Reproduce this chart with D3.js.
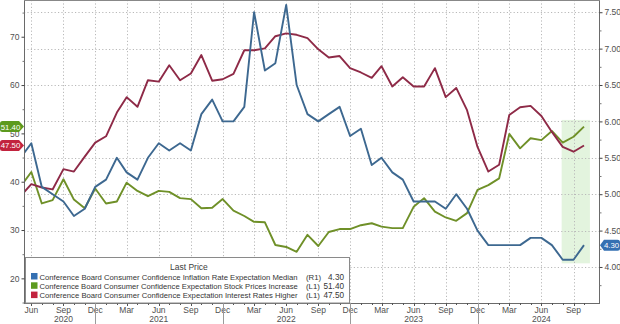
<!DOCTYPE html>
<html><head><meta charset="utf-8">
<script src="https://cdn.jsdelivr.net/npm/d3@7"></script>
<style>
html,body{margin:0;padding:0;background:#fff;}
svg{display:block;font-family:"Liberation Sans",Arial,sans-serif;}
</style></head><body>
<svg id="chart" width="620" height="324"></svg>
<script>
// Monthly observations, May 2020 through Oct 2024
const months = d3.timeMonths(new Date(2020, 4, 1), new Date(2024, 10, 1));

// Inflation rate expectation median (%, right axis)
const inflationMedian = [
  5.5, 5.7, 5.1, 5.0, 4.9, 4.7, 4.8, 5.1,
  5.2, 5.5, 5.3, 5.2, 5.5, 5.7, 5.6, 5.7, 5.6, 6.1, 6.3, 6.0,
  6.0, 6.2, 7.5, 6.7, 6.8, 7.6, 6.5, 6.1, 6.0, 6.1, 6.2, 5.8,
  5.9, 5.4, 5.5, 5.3, 5.2, 4.9, 4.9, 4.9, 4.8, 5.0, 4.8, 4.5,
  4.3, 4.3, 4.3, 4.3, 4.4, 4.4, 4.3, 4.1, 4.1, 4.3
];
// Expectation: stock prices increase (left axis)
const stockPricesIncrease = [
  39.0, 42.0, 35.5, 36.2, 40.5, 36.3, 34.5, 38.6,
  35.5, 35.9, 39.8, 38.1, 37.0, 38.1, 37.9, 36.6, 36.4, 34.5, 34.6, 36.4,
  34.0, 32.9, 31.7, 31.6, 26.9, 26.5, 25.5, 29.0, 26.7, 29.6, 30.2, 30.2,
  31.0, 31.4, 30.7, 30.4, 30.4, 34.8, 36.6, 33.8, 32.6, 31.9, 33.5, 38.3,
  39.3, 40.7, 49.9, 46.9, 49.0, 48.6, 50.5, 48.1, 49.3, 51.4
];
// Expectation: interest rates higher (left axis)
const interestRatesHigher = [
  37.0, 39.5, 38.8, 38.4, 42.6, 42.1, 45.2, 48.1,
  49.4, 54.3, 57.5, 55.5, 61.0, 60.7, 64.1, 61.0, 62.4, 66.2, 60.9, 61.2,
  62.3, 67.2, 67.2, 67.6, 70.1, 70.7, 70.4, 69.7, 67.4, 65.7, 66.0, 63.5,
  62.6, 61.5, 63.9, 59.7, 61.6, 59.7, 59.7, 63.5, 57.5, 59.4, 54.8, 47.2,
  42.1, 43.5, 53.8, 55.4, 55.7, 53.6, 50.3, 47.2, 46.2, 47.5
];

const seriesNames = [
  "Conference Board Consumer Confidence Inflation Rate Expectation Median",
  "Conference Board Consumer Confidence Expectation Stock Prices Increase",
  "Conference Board Consumer Confidence Expectation Interest Rates Higher"
];
const seriesAxes = ["R1", "L1", "L1"];
const leftTicks = [20, 30, 40, 50, 60, 70];
const rightTicks = [4.0, 4.5, 5.0, 5.5, 6.0, 6.5, 7.0, 7.5];
const highlightMonths = [new Date(2024, 6, 29), new Date(2024, 9, 18)];
const highlightRange = [4.05, 6.02];

const svg = d3.select("#chart");
const W = 620, H = 324;
const plot = {left: 24, right: 599, top: 0, bottom: 303};

const x = d3.scaleTime()
  .domain([new Date(2020, 4, 1), new Date(2024, 9, 1)])
  .range([20.5, 584]);
const yL = d3.scaleLinear().domain([14.9, 77.6]).range([plot.bottom, plot.top]);
const yR = d3.scaleLinear().domain([3.505, 7.668]).range([plot.bottom, plot.top]);

const colors = {
  blueLine: "#3d6890", greenLine: "#6f9028", redLine: "#8e2a47",
  blueKey: "#3570b2", greenKey: "#5c9a1e", redKey: "#c2233e"
};

svg.append("defs").append("clipPath").attr("id", "plotclip")
  .append("rect").attr("x", plot.left).attr("y", plot.top)
  .attr("width", plot.right - plot.left).attr("height", plot.bottom - plot.top);

// highlighted window
svg.append("rect")
  .attr("x", x(highlightMonths[0])).attr("width", x(highlightMonths[1]) - x(highlightMonths[0]))
  .attr("y", yR(highlightRange[1])).attr("height", yR(highlightRange[0]) - yR(highlightRange[1]))
  .attr("fill", "#a8dc98").attr("opacity", 0.32);

// grid
const grid = svg.append("g").attr("stroke", "#b9b9b9").attr("stroke-width", 1)
  .attr("stroke-dasharray", "1.2,2.2").attr("fill", "none");
rightTicks.forEach(v => {
  grid.append("line").attr("x1", plot.left).attr("x2", plot.right)
    .attr("y1", Math.round(yR(v)) + 0.5).attr("y2", Math.round(yR(v)) + 0.5);
});
const quarterMonths = months.filter(d => d.getMonth() % 3 === 2);
quarterMonths.forEach(d => {
  const xx = Math.round(x(d)) + 0.5;
  grid.append("line").attr("x1", xx).attr("x2", xx).attr("y1", plot.top).attr("y2", plot.bottom);
});

// series lines
const lines = svg.append("g").attr("clip-path", "url(#plotclip)").attr("fill", "none")
  .attr("stroke-width", 1.9).attr("stroke-linejoin", "round");
const lineL = d3.line().x((d, i) => x(months[i])).y(d => yL(d));
const lineR = d3.line().x((d, i) => x(months[i])).y(d => yR(d));
lines.append("path").datum(stockPricesIncrease).attr("d", lineL).attr("stroke", colors.greenLine);
lines.append("path").datum(interestRatesHigher).attr("d", lineL).attr("stroke", colors.redLine);
lines.append("path").datum(inflationMedian).attr("d", lineR).attr("stroke", colors.blueLine);

// frame
const frame = svg.append("g").attr("stroke", "#6a6a6a").attr("stroke-width", 1).attr("fill", "none");
frame.append("line").attr("x1", plot.left + 0.5).attr("x2", plot.left + 0.5).attr("y1", 0).attr("y2", plot.bottom);
frame.append("line").attr("x1", plot.right + 0.5).attr("x2", plot.right + 0.5).attr("y1", 0).attr("y2", plot.bottom);
frame.append("line").attr("x1", plot.left).attr("x2", plot.right + 1).attr("y1", plot.bottom + 0.5).attr("y2", plot.bottom + 0.5);
frame.append("line").attr("x1", plot.left).attr("x2", plot.right + 1).attr("y1", 0.5).attr("y2", 0.5).attr("stroke", "#888");

// left axis
const leftAxis = d3.axisLeft(yL).tickValues(leftTicks).tickSize(3).tickPadding(2).tickFormat(d3.format("d"));
const gl = svg.append("g").attr("transform", `translate(${plot.left + 0.5},0)`).call(leftAxis);
gl.select(".domain").remove();
gl.selectAll("line").attr("stroke", "#444");
gl.selectAll("text").attr("font-size", 8.5).attr("fill", "#505050").attr("font-family", "Liberation Sans, Arial, sans-serif");
const leftMinor = d3.axisLeft(yL).tickValues(d3.range(15, 78, 5).filter(v => v % 10 !== 0)).tickSize(2).tickFormat("");
const glm = svg.append("g").attr("transform", `translate(${plot.left + 0.5},0)`).call(leftMinor);
glm.select(".domain").remove(); glm.selectAll("line").attr("stroke", "#777");

// right axis
const rightAxis = d3.axisRight(yR).tickValues(rightTicks).tickSize(3).tickPadding(2).tickFormat(d3.format(".2f"));
const gr = svg.append("g").attr("transform", `translate(${plot.right + 0.5},0)`).call(rightAxis);
gr.select(".domain").remove();
gr.selectAll("line").attr("stroke", "#444");
gr.selectAll("text").attr("font-size", 8.5).attr("fill", "#505050").attr("font-family", "Liberation Sans, Arial, sans-serif");
const rightMinor = d3.axisRight(yR).tickValues(d3.range(3.75, 7.7, 0.5)).tickSize(2).tickFormat("");
const grm = svg.append("g").attr("transform", `translate(${plot.right + 0.5},0)`).call(rightMinor);
grm.select(".domain").remove(); grm.selectAll("line").attr("stroke", "#777");

// bottom axis: month ticks, quarter labels, year labels
const gb = svg.append("g");
months.forEach(d => {
  const xx = Math.round(x(d)) + 0.5;
  if (xx < plot.left || xx > plot.right) return;
  const q = d.getMonth() % 3 === 2;
  gb.append("line").attr("x1", xx).attr("x2", xx).attr("y1", plot.bottom).attr("y2", plot.bottom + (q ? 3 : 2))
    .attr("stroke", "#555");
});
const fmtMonth = d3.timeFormat("%b");
quarterMonths.forEach(d => {
  gb.append("text").attr("x", x(d)).attr("y", 312.5).attr("text-anchor", "middle")
    .attr("font-size", 8.5).attr("fill", "#505050").text(fmtMonth(d));
});
months.filter(d => d.getMonth() === 11).forEach(d => {
  const xx = Math.round(x(d)) + 0.5;
  gb.append("line").attr("x1", xx).attr("x2", xx).attr("y1", plot.bottom).attr("y2", H)
    .attr("stroke", "#9a9a9a");
});
const years = d3.range(2020, 2025);
years.forEach(yr => {
  let xx = x(new Date(yr, 5, 1));
  if (xx < plot.left + 20) xx = x(new Date(yr, 8, 1));
  gb.append("text").attr("x", xx).attr("y", 321.5).attr("text-anchor", "middle")
    .attr("font-size", 8.5).attr("fill", "#505050").text(yr);
});

// legend
const lg = svg.append("g");
lg.append("rect").attr("x", plot.left + 1.5).attr("y", 257.5).attr("width", 324).attr("height", plot.bottom - 257.5)
  .attr("fill", "#fff").attr("stroke", "#8a8a8a");
lg.append("text").attr("x", 170).attr("y", 269.5).attr("font-size", 8.5).attr("fill", "#404040").text("Last Price");
const keyColors = [colors.blueKey, colors.greenKey, colors.redKey];
const lastValues = [inflationMedian, stockPricesIncrease, interestRatesHigher].map(a => a[a.length - 1]);
const nameWidth = 258;
seriesNames.forEach((name, i) => {
  const yy = 276.5 + i * 9.3;
  lg.append("rect").attr("x", 31).attr("y", yy - 3.5).attr("width", 6.5).attr("height", 6.5).attr("fill", keyColors[i]);
  const t = lg.append("text").attr("x", 39.5).attr("y", yy + 3).attr("font-size", 8.2).attr("fill", "#353535").text(name);
  // scale the font so the series name fills the legend's name column
  const w = t.node().getComputedTextLength();
  t.attr("font-size", (8.2 * nameWidth / w).toFixed(2));
  lg.append("text").attr("x", 306).attr("y", yy + 3).attr("font-size", 7.8).attr("fill", "#353535")
    .text(`(${seriesAxes[i]})`);
  lg.append("text").attr("x", 344).attr("y", yy + 3).attr("font-size", 8.2).attr("fill", "#353535")
    .attr("text-anchor", "end").text(d3.format(".2f")(lastValues[i]));
});

// last-value tags on the axes
function tag(cy, side, color, label) {
  const h = 11, r = 2.5;
  let p;
  if (side === "left") {
    const x0 = 0, x1 = 19, tip = 24;
    p = `M${x0},${cy - h / 2 + r} Q${x0},${cy - h / 2} ${x0 + r},${cy - h / 2} L${x1},${cy - h / 2} L${tip},${cy} L${x1},${cy + h / 2} L${x0 + r},${cy + h / 2} Q${x0},${cy + h / 2} ${x0},${cy + h / 2 - r} Z`;
  } else {
    const tip = plot.right + 1, x0 = 604, x1 = 620;
    p = `M${tip},${cy} L${x0},${cy - h / 2} L${x1 - r},${cy - h / 2} Q${x1},${cy - h / 2} ${x1},${cy - h / 2 + r} L${x1},${cy + h / 2 - r} Q${x1},${cy + h / 2} ${x1 - r},${cy + h / 2} L${x0},${cy + h / 2} Z`;
  }
  svg.append("path").attr("d", p).attr("fill", color);
  svg.append("text").attr("x", side === "left" ? 10.5 : 611.5).attr("y", cy + 3)
    .attr("text-anchor", "middle").attr("font-size", 7.8).attr("fill", "#fff").text(label);
}
tag(yL(lastValues[1]), "left", colors.greenKey, d3.format(".2f")(lastValues[1]));
tag(yL(lastValues[2]), "left", colors.redKey, d3.format(".2f")(lastValues[2]));
tag(yR(lastValues[0]), "right", colors.blueKey, d3.format(".2f")(lastValues[0]));
</script>
</body></html>
